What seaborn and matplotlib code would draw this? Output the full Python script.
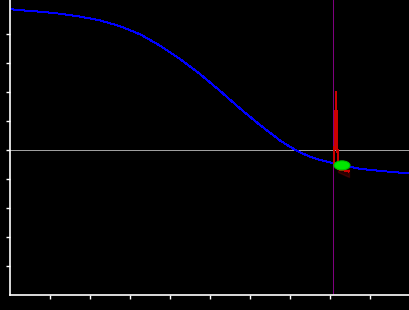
import matplotlib
matplotlib.use("Agg")
import matplotlib.pyplot as plt
from matplotlib.patches import Ellipse
import seaborn as sns
import pandas as pd

# Blue curve
curve_x = [0, 0.175, 0.75, 1.25, 1.75, 2.25, 2.75, 3.25, 3.75, 4.25, 4.75, 5.25,
           5.75, 6.25, 6.75, 7.0, 7.25, 7.5, 7.75, 8.075, 8.75, 9.25, 9.75, 10.0]
curve_y = [4.86, 4.83, 4.77, 4.70, 4.60, 4.47, 4.27, 3.99, 3.60, 3.14, 2.62, 2.04,
           1.43, 0.86, 0.33, 0.11, -0.08, -0.23, -0.34, -0.45, -0.65, -0.72, -0.78, -0.81]

# Red trace
red_x = [8.10, 8.125, 8.15, 8.175, 8.2, 8.2, 8.475, 8.475]
red_y = [-0.45, 0.59, 2.0, 0.59, -0.76, -0.55, -0.55, -0.93]

# Green blob
blob_x = 8.3
blob_y = -0.53
blob_w = 0.40
blob_h = 0.31

# Reference lines
hline_y = 0.0
vline_x = 8.075

xticks = [1, 2, 3, 4, 5, 6, 7, 8, 9]
yticks = [-4, -3, -2, -1, 0, 1, 2, 3, 4]

sns.set_theme(style="ticks")
fig = plt.figure(figsize=(4.1, 3.1), dpi=100, facecolor="black")
ax = fig.add_axes([10 / 410, 15 / 310, 400 / 410, 295 / 310])
ax.set_facecolor("black")

ax.axhline(hline_y, color="#a0a0a0", lw=0.7, zorder=1, antialiased=False)
ax.axvline(vline_x, color="#800080", lw=0.7, zorder=1, antialiased=False)

df_curve = pd.DataFrame({"x": curve_x, "y": curve_y})
sns.lineplot(data=df_curve, x="x", y="y", ax=ax, color="#0000ff", lw=0.7,
             sort=False, antialiased=False, zorder=2)

df_red = pd.DataFrame({"x": red_x, "y": red_y})
sns.lineplot(data=df_red, x="x", y="y", ax=ax, color="#cc0000", lw=0.8,
             sort=False, antialiased=False, zorder=3)

ax.add_patch(Ellipse((blob_x, blob_y), blob_w, blob_h, facecolor="#00e600",
                     edgecolor="#00c000", lw=0.8, zorder=4))

ax.set_xlim(0, 10)
ax.set_ylim(-5, 150 / 29)
ax.set_xticks(xticks)
ax.set_yticks(yticks)
ax.set_xticklabels([])
ax.set_yticklabels([])
ax.set_xlabel("")
ax.set_ylabel("")
for s in ["top", "right"]:
    ax.spines[s].set_visible(False)
for s in ["left", "bottom"]:
    ax.spines[s].set_color("white")
    ax.spines[s].set_linewidth(1.2)
ax.tick_params(colors="white", length=3, width=1, direction="out")

fig.savefig("out.png", dpi=100, facecolor="black")
